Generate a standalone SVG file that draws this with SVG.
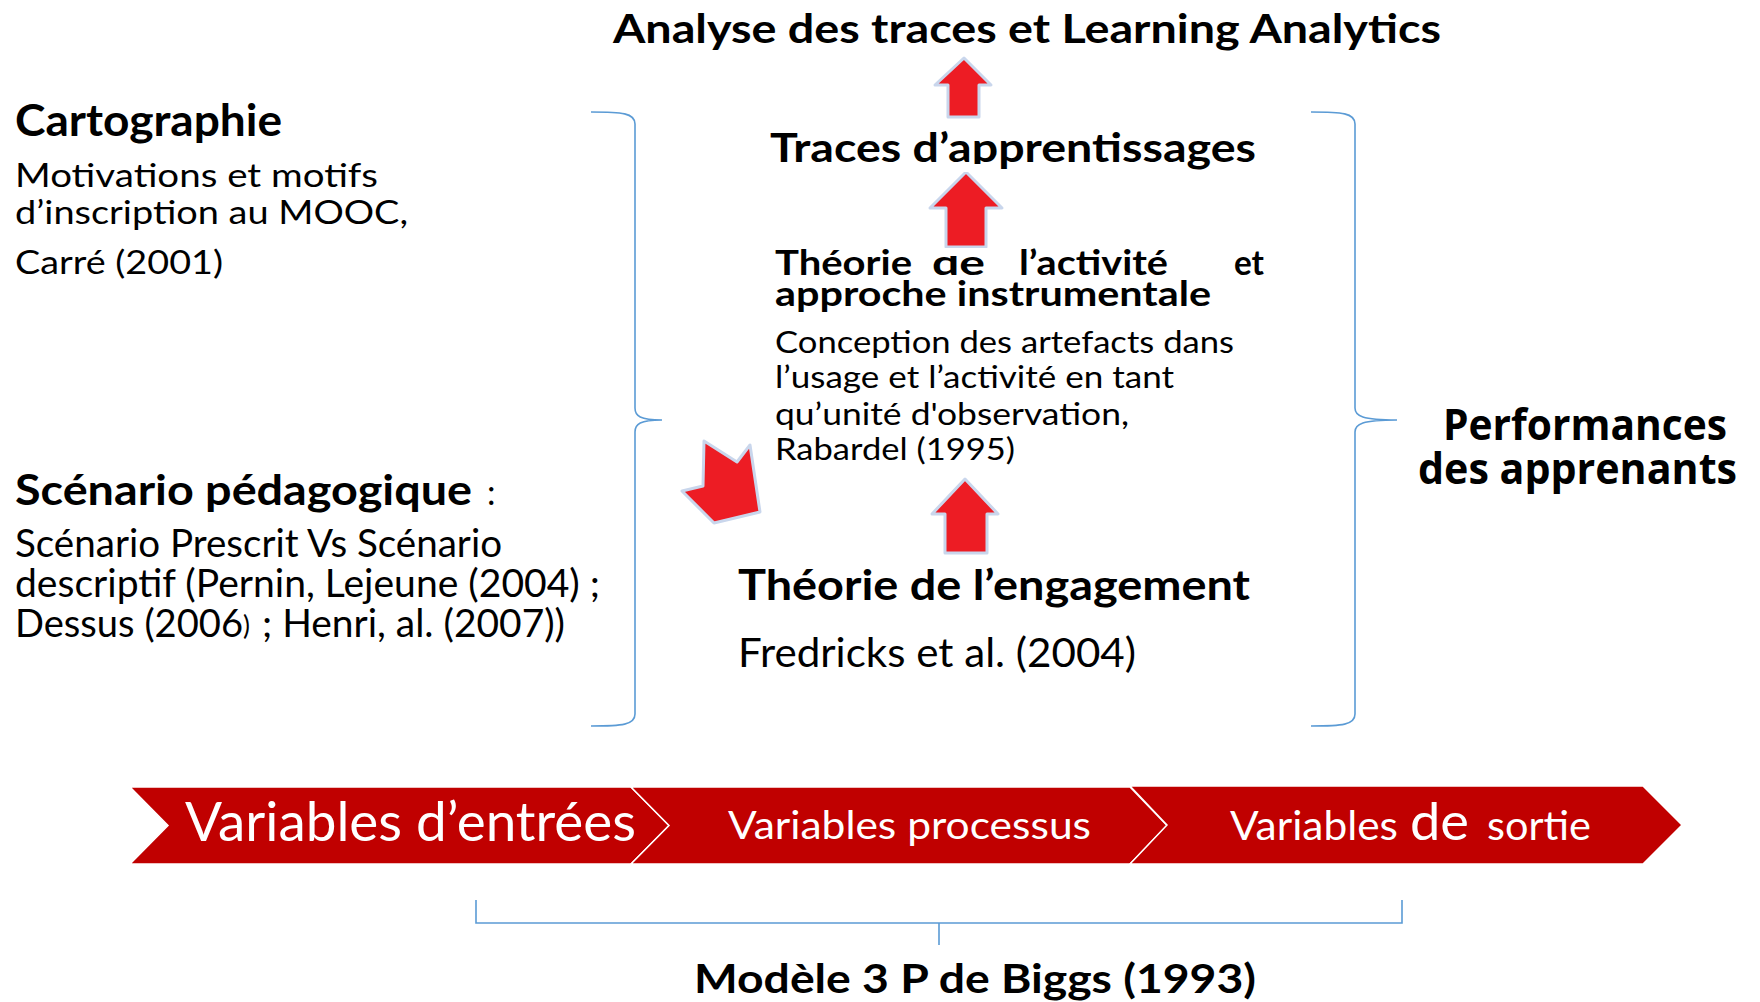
<svg xmlns="http://www.w3.org/2000/svg" width="1760" height="1002" viewBox="0 0 1760 1002">
<style>
text{font-family:Lato,"Open Sans","Liberation Sans",sans-serif;fill:#000}
.b{font-weight:bold}
.w{fill:#fff}
.perf{font-family:"Open Sans","DejaVu Sans",sans-serif;font-weight:bold}
.brace{fill:none;stroke:#5B9BD5;stroke-width:1.6}
.arr{fill:#ED1C24;stroke:#C9D6EC;stroke-width:3;stroke-linejoin:round}
.chev{fill:#C00000;stroke:#fff;stroke-width:1.5}
</style>
<rect width="1760" height="1002" fill="#fff"/>

<g id="connectors">
  <path class="brace" d="M591,112 C622,112 635,113 635,124 L635,408 C635,416 640,420 662,420 C640,420 635,424 635,432 L635,714 C635,725 622,726 591,726"/>
  <path class="brace" d="M1311,112 C1342,112 1355,113 1355,124 L1355,408 C1355,416 1362,420 1397,420 C1362,420 1355,424 1355,432 L1355,714 C1355,725 1342,726 1311,726"/>
  <path class="brace" d="M476,900 L476,923 L1402,923 L1402,900 M939,923 L939,945"/>
  <polygon class="arr" points="964,58 991,85 979,85 979,117 948,117 948,85 935,85"/>
  <polygon class="arr" points="966,172 1002,208 986,208 986,247 946,247 946,208 930,208"/>
  <polygon class="arr" points="965,479 998,514 987,514 987,553 945,553 945,514 932,514"/>
  <polygon class="arr" points="704,441 737,462 750,445 760,512 714,523 682,491 703,486"/>
</g>

<g id="title">
  <text class="b" x="613" y="43" font-size="40" textLength="828" lengthAdjust="spacingAndGlyphs">Analyse des traces et Learning Analytics</text>
</g>

<g id="cartographie">
  <text class="b" x="15" y="136" font-size="43" textLength="267" lengthAdjust="spacingAndGlyphs">Cartographie</text>
  <text x="15" y="187" font-size="33" textLength="363" lengthAdjust="spacingAndGlyphs">Motivations et motifs</text>
  <text x="15" y="224" font-size="33" textLength="393" lengthAdjust="spacingAndGlyphs">d’inscription au MOOC,</text>
  <text x="15" y="274" font-size="33" textLength="208" lengthAdjust="spacingAndGlyphs">Carré (2001)</text>
</g>

<g id="scenario">
  <text class="b" x="15" y="505" font-size="42" textLength="457" lengthAdjust="spacingAndGlyphs">Scénario pédagogique</text>
  <text x="487" y="505" font-size="34">:</text>
  <text x="15" y="557" font-size="38" textLength="487" lengthAdjust="spacingAndGlyphs">Scénario Prescrit Vs Scénario</text>
  <text x="15" y="597" font-size="38" textLength="585" lengthAdjust="spacingAndGlyphs">descriptif (Pernin, Lejeune (2004) ;</text>
  <text x="15" y="637" font-size="38" textLength="228" lengthAdjust="spacingAndGlyphs">Dessus (2006</text>
  <text x="243" y="635" font-size="26">)</text>
  <text x="262" y="637" font-size="38" textLength="303" lengthAdjust="spacingAndGlyphs">; Henri, al. (2007))</text>
</g>

<g id="traces">
  <text class="b" x="770" y="162" font-size="40" textLength="486" lengthAdjust="spacingAndGlyphs">Traces d’apprentissages</text>
  <rect x="926" y="164" width="64" height="8" fill="#fff"/>
</g>

<g id="activite">
  <text class="b" x="775" y="275" font-size="34" textLength="137" lengthAdjust="spacingAndGlyphs">Théorie</text>
  <text class="b" x="932" y="275" font-size="34" textLength="53" lengthAdjust="spacingAndGlyphs">de</text>
  <text class="b" x="1019" y="275" font-size="34" textLength="149" lengthAdjust="spacingAndGlyphs">l’activité</text>
  <text class="b" x="1234" y="275" font-size="34" textLength="30" lengthAdjust="spacingAndGlyphs">et</text>
  <rect x="928" y="248" width="60" height="8" fill="#fff"/>
  <text class="b" x="775" y="306" font-size="34" textLength="436" lengthAdjust="spacingAndGlyphs">approche instrumentale</text>
  <text x="775" y="353" font-size="30" textLength="459" lengthAdjust="spacingAndGlyphs">Conception des artefacts dans</text>
  <text x="775" y="388" font-size="30" textLength="399" lengthAdjust="spacingAndGlyphs">l’usage et l’activité en tant</text>
  <text x="775" y="425" font-size="30" textLength="354" lengthAdjust="spacingAndGlyphs">qu’unité d'observation,</text>
  <text x="775" y="460" font-size="30" textLength="240" lengthAdjust="spacingAndGlyphs">Rabardel (1995)</text>
</g>

<g id="engagement">
  <text class="b" x="738" y="600" font-size="42" textLength="512" lengthAdjust="spacingAndGlyphs">Théorie de l’engagement</text>
  <text x="738" y="667" font-size="40" textLength="398" lengthAdjust="spacingAndGlyphs">Fredricks et al. (2004)</text>
</g>

<g id="performances">
  <text class="perf" x="1443" y="440" font-size="43" textLength="284" lengthAdjust="spacingAndGlyphs">Performances</text>
  <text class="perf" x="1418" y="484" font-size="43" textLength="319" lengthAdjust="spacingAndGlyphs">des apprenants</text>
</g>

<g id="chevron-entrees">
  <path class="chev" d="M130,787 L631,787 L669,825.5 L631,864 L130,864 L168,825.5 Z"/>
  <text class="w" x="185" y="841" font-size="54" textLength="451" lengthAdjust="spacingAndGlyphs">Variables d’entrées</text>
</g>
<g id="chevron-processus">
  <path class="chev" d="M631,787 L1130,787 L1167,825.5 L1130,864 L631,864 L669,825.5 Z"/>
  <text class="w" x="728" y="839" font-size="39" textLength="363" lengthAdjust="spacingAndGlyphs">Variables processus</text>
</g>
<g id="chevron-sortie">
  <path class="chev" d="M1130,786 L1643,786 L1682,825 L1643,864 L1130,864 L1167,825 Z"/>
  <text class="w" x="1230" y="840" font-size="40" textLength="168" lengthAdjust="spacingAndGlyphs">Variables</text>
  <text class="w" x="1410" y="840" font-size="53" textLength="59" lengthAdjust="spacingAndGlyphs">de</text>
  <text class="w" x="1487" y="840" font-size="40" textLength="104" lengthAdjust="spacingAndGlyphs">sortie</text>
</g>

<g id="biggs">
  <text class="b" x="694" y="993" font-size="41" textLength="562" lengthAdjust="spacingAndGlyphs">Modèle 3 P de Biggs (1993)</text>
</g>
</svg>
